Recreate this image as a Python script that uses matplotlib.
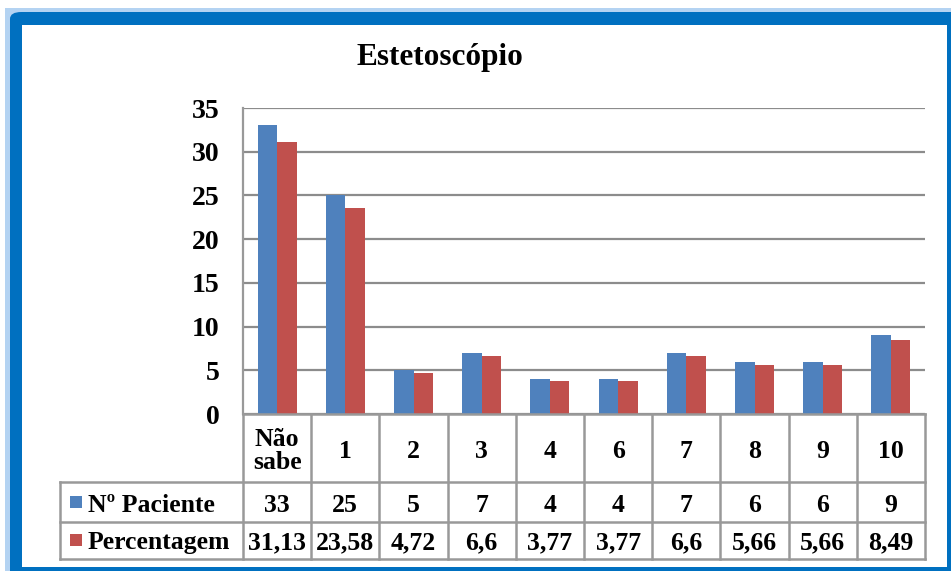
import matplotlib
matplotlib.use("Agg")
import matplotlib.pyplot as plt
from matplotlib.patches import Rectangle, FancyBboxPatch
from matplotlib.lines import Line2D

categories = ["Não\nsabe", "1", "2", "3", "4", "6", "7", "8", "9", "10"]
pacientes = [33, 25, 5, 7, 4, 4, 7, 6, 6, 9]
percentagem = [31.13, 23.58, 4.72, 6.6, 3.77, 3.77, 6.6, 5.66, 5.66, 8.49]
perc_labels = ["31,13", "23,58", "4,72", "6,6", "3,77", "3,77", "6,6", "5,66", "5,66", "8,49"]
series_names = ["Nº Paciente", "Percentagem"]
yticks = [0, 5, 10, 15, 20, 25, 30, 35]
title = "Estetoscópio"

W, H = 951, 571
BLUE = "#4F81BD"
RED = "#C0504D"
GRID = "#8C8C8C"
TBL = "#999999"
FONT = "Liberation Serif"

plt.rcParams['font.family'] = [FONT, 'DejaVu Serif']

fig = plt.figure(figsize=(W / 100, H / 100), dpi=100)
fig.patch.set_facecolor("white")


def fx(x):
    return x / W


def fy(y):
    return 1 - y / H


# frame
fig.patches.append(Rectangle((fx(5), fy(600)), fx(1000), fy(8) - fy(600),
                             transform=fig.transFigure, facecolor="#B4D3F2",
                             edgecolor="none", zorder=-3))
fig.patches.append(FancyBboxPatch((fx(10), fy(600)), fx(1000), fy(12) - fy(600),
                                  boxstyle="round,pad=0,rounding_size=0.012",
                                  transform=fig.transFigure, facecolor="#0070C0",
                                  edgecolor="none", zorder=-2))
fig.patches.append(Rectangle((fx(22), fy(567)), fx(947 - 22), fy(25) - fy(567),
                             transform=fig.transFigure, facecolor="white",
                             edgecolor="none", zorder=-1))

# axes
L, R, T, B = 243, 925, 108, 414
ax = fig.add_axes([fx(L), fy(B), fx(R - L), fy(T) - fy(B)])
ax.set_facecolor("none")
n = len(categories)
x = list(range(n))
bw = 0.285
ax.bar([i - bw / 2 for i in x], pacientes, width=bw, color=BLUE, zorder=3)
ax.bar([i + bw / 2 for i in x], percentagem, width=bw, color=RED, zorder=3)
ax.set_xlim(-0.5, n - 0.5)
ax.set_ylim(0, 35)
ax.set_yticks(yticks)
ax.set_yticklabels([str(t) for t in yticks], fontsize=20, fontweight="bold")
ax.tick_params(axis="y", length=0, pad=17)
ax.set_xticks([])
ax.yaxis.grid(True, color=GRID, linewidth=1.6, zorder=0)
for s in ["top", "right", "bottom"]:
    ax.spines[s].set_visible(False)
ax.spines["left"].set_color(TBL)
ax.spines["left"].set_linewidth(1.6)

fig.text(fx(440), fy(58), title, ha="center", va="center",
         fontsize=22.5, fontweight="bold")

# data table
cell_w = (R - L) / n
row_lines = [B, 482, 522, 559]
tl = 60


def hline(y, x0, x1):
    fig.lines.append(Line2D([fx(x0), fx(x1)], [fy(y), fy(y)], transform=fig.transFigure,
                            color=TBL, linewidth=1.8))


def vline(xp, y0, y1):
    fig.lines.append(Line2D([fx(xp), fx(xp)], [fy(y0), fy(y1)], transform=fig.transFigure,
                            color=TBL, linewidth=1.8))


hline(B, L, R)
for y in row_lines[1:]:
    hline(y, tl, R)
for i in range(n + 1):
    vline(L + i * cell_w, B, 559)
vline(tl, 482, 559)

FS = 18.5
for i, c in enumerate(categories):
    cx = L + (i + 0.5) * cell_w
    fig.text(fx(cx), fy((B + 482) / 2 + 3), c, ha="center", va="center",
             fontsize=FS, fontweight="bold", linespacing=1.0)
    fig.text(fx(cx), fy(505), str(pacientes[i]), ha="center", va="center",
             fontsize=FS, fontweight="bold")
    fig.text(fx(cx), fy(543), perc_labels[i], ha="center", va="center",
             fontsize=FS, fontweight="bold")

for j, (name, col, yc) in enumerate(zip(series_names, [BLUE, RED], [502, 540])):
    fig.patches.append(Rectangle((fx(70), fy(yc + 6)), fx(12), fy(yc - 6) - fy(yc + 6),
                                 transform=fig.transFigure, facecolor=col,
                                 edgecolor="none"))
    fig.text(fx(88), fy(yc + 3), name, ha="left", va="center",
             fontsize=FS, fontweight="bold")

fig.savefig("out.png", dpi=100, facecolor=fig.get_facecolor())
